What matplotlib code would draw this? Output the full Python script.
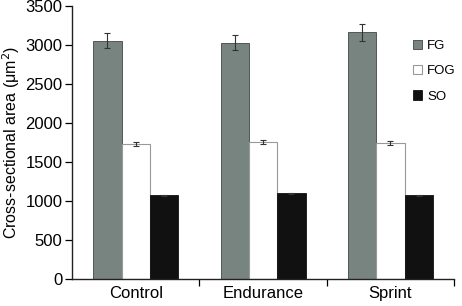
import numpy as np
import matplotlib.pyplot as plt

groups = ["Control", "Endurance", "Sprint"]
fg = [3055, 3030, 3160]
fg_err = [92, 95, 105]
fog = [1727, 1756, 1748]
fog_err = [25, 22, 25]
so = [1073, 1100, 1073]
so_err = [8, 8, 8]

plt.rcParams['font.family'] = ['Liberation Sans', 'DejaVu Sans']

fig = plt.figure(figsize=(4.62, 3.06), dpi=100)
ax = fig.add_axes([0.156, 0.088, 0.827, 0.893])

x = np.arange(len(groups))
w = 0.222
err_kw = dict(ecolor='#333333', elinewidth=0.8, capsize=2.5, capthick=0.8)
ax.bar(x - w, fg, w, yerr=fg_err, color='#788480', edgecolor='#444444', linewidth=0.6,
       label='FG', error_kw=err_kw)
ax.bar(x, fog, w, yerr=fog_err, color='white', edgecolor='#999999', linewidth=0.8,
       label='FOG', error_kw=err_kw)
ax.bar(x + w, so, w, yerr=so_err, color='#111111', edgecolor='#111111', linewidth=0.6,
       label='SO', error_kw=err_kw)

ax.set_xlim(-0.5, 2.5)
ax.set_ylim(0, 3500)
ax.set_yticks(np.arange(0, 3501, 500))
ax.set_xticks(x)
ax.set_xticklabels(groups)
ax.set_xticks([0.5, 1.5, 2.5], minor=True)
ax.tick_params(axis='x', which='major', length=0, labelsize=12, pad=5)
ax.tick_params(axis='x', which='minor', length=5, direction='out', width=0.9)
ax.tick_params(axis='y', length=5, direction='out', width=0.9, labelsize=12, pad=2)
ax.spines['top'].set_visible(False)
ax.spines['right'].set_visible(False)
for s in ('left', 'bottom'):
    ax.spines[s].set_linewidth(1.0)
    ax.spines[s].set_color('#222222')
ax.set_ylabel('Cross-sectional area (\u03bcm$^2$)', fontsize=11.5, labelpad=2)

leg = ax.legend(loc='upper left', bbox_to_anchor=(0.86, 0.92), frameon=False, fontsize=9.5,
                handlelength=0.7, handleheight=0.7, handletextpad=0.4, labelspacing=1.0)

fig.savefig('out.png', dpi=100)
